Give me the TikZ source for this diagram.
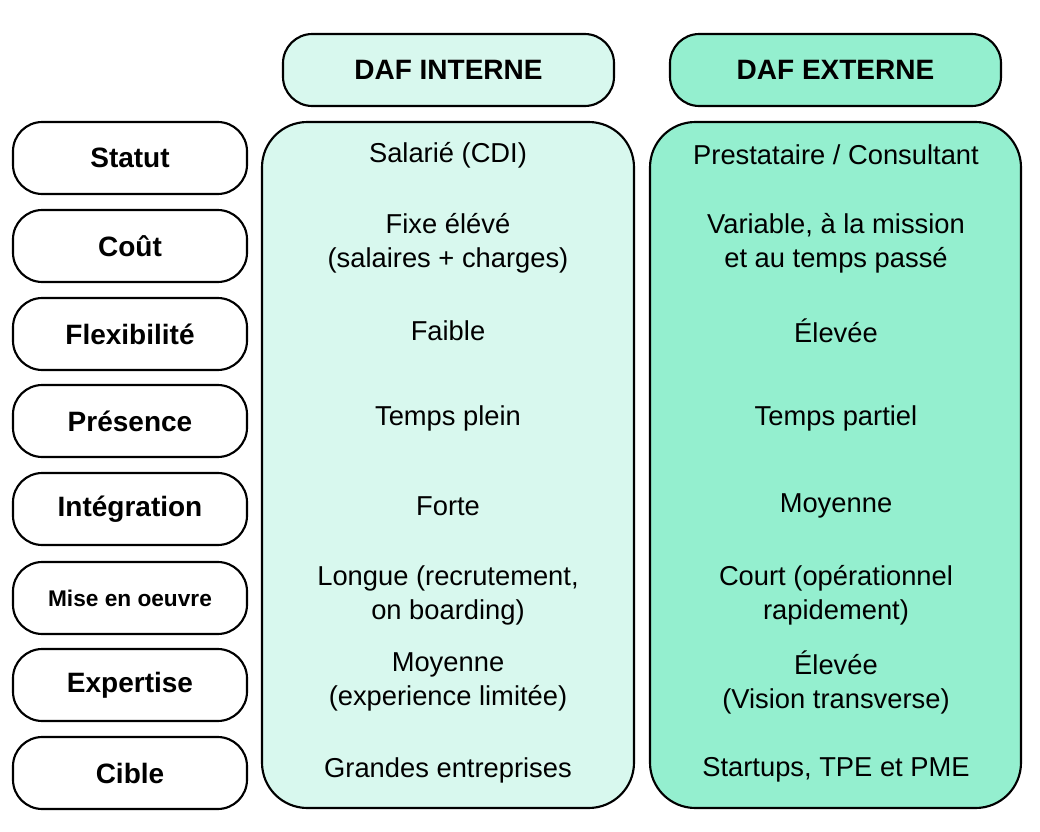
\documentclass[tikz,border=0pt]{standalone}
\usepackage{fontspec}
\setmainfont{Liberation Sans}
\definecolor{lightmint}{HTML}{D8F8EE}
\definecolor{mint}{HTML}{94EFCF}
\begin{document}
\begin{tikzpicture}[x=0.75pt,y=-0.75pt,
  box/.style={draw=black,line width=1.6pt,rounded corners=22pt},
  lab/.style={font=\bfseries\fontsize{21}{24}\selectfont},
  cell/.style={font=\fontsize{20.5}{25.5}\selectfont,align=center}]
\useasboundingbox (0,0) rectangle (1040,832);
\draw[box,fill=lightmint] (283,34) rectangle (614,106);
\draw[box,fill=mint] (670,34) rectangle (1001,106);
\node[lab] (hi) at (448.5,70) {DAF INTERNE};
\node[lab] (he) at (835.5,70) {DAF EXTERNE};
\draw[box,fill=lightmint,rounded corners=34pt] (262,122) rectangle (634,808);
\draw[box,fill=mint,rounded corners=34pt] (650,122) rectangle (1021,808);
\foreach \y/\t/\a/\b [count=\i] in {
 158/Statut/{Salarié (CDI)}/{Prestataire / Consultant},
 246/Coût/{Fixe élévé\\(salaires + charges)}/{Variable, à la mission\\et au temps passé},
 334/Flexibilité/{Faible}/{Élevée},
 421/Présence/{Temps plein}/{Temps partiel},
 509/Intégration/{Forte}/{Moyenne},
 598/{\fontsize{17}{20}\selectfont Mise en oeuvre}/{Longue (recrutement,\\on boarding)}/{Court (opérationnel\\rapidement)},
 685/Expertise/{Moyenne\\(experience limitée)}/{Élevée\\(Vision transverse)},
 773/Cible/{Grandes entreprises}/{Startups, TPE et PME}}{
  \draw[box] (13,\y-36) rectangle (247,\y+36);
  \node[lab] (l\i) at (130,\y) {\t};
  \node[cell] (a\i) at (448,\y-3) {\a};
  \node[cell] (b\i) at (836,\y-3) {\b};
}
\end{tikzpicture}
\end{document}
